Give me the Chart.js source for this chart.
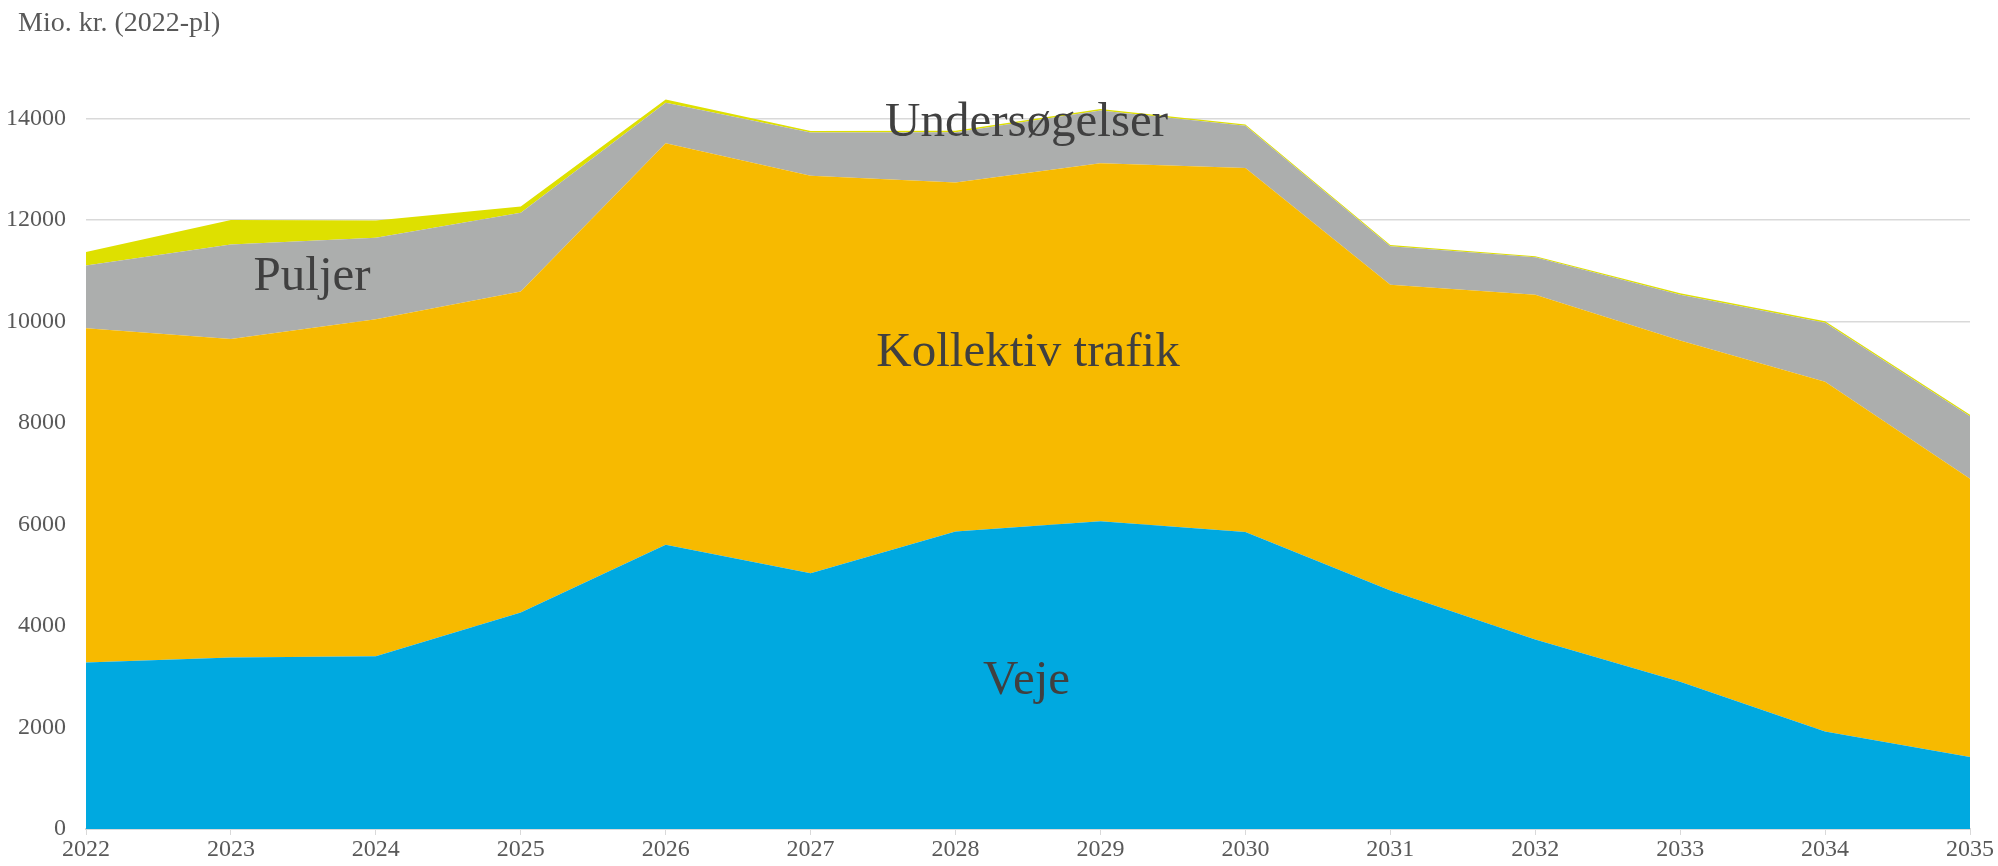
<!DOCTYPE html>
<html>
<head>
<meta charset="utf-8">
<script src="https://cdn.jsdelivr.net/npm/chart.js@4/dist/chart.umd.min.js"></script>
<style>
  html, body { margin: 0; padding: 0; background: #fff; }
  #wrap { width: 1998px; height: 866px; }
</style>
</head>
<body>
<div id="wrap"><canvas id="chart" width="1998" height="866"></canvas></div>
<script>
// Years on the x axis
const years = ['2022', '2023', '2024', '2025', '2026', '2027', '2028', '2029', '2030', '2031', '2032', '2033', '2034', '2035'];

// Y axis tick values
const yTicks = [0, 2000, 4000, 6000, 8000, 10000, 12000, 14000];

// Stacked series, mio. kr. (2022-pl)
const veje = [3283, 3378, 3406, 4267, 5601, 5043, 5866, 6064, 5856, 4702, 3737, 2904, 1921, 1419];
const kollektivTrafik = [6585, 6281, 6641, 6329, 7918, 7833, 6878, 7058, 7171, 6026, 6793, 6727, 6896, 5487];
const puljer = [1239, 1864, 1609, 1551, 795, 852, 990, 1041, 833, 757, 738, 899, 1164, 1230];
const undersoegelser = [265, 483, 340, 124, 66, 28, 28, 27, 28, 28, 19, 28, 28, 29];

const seriesNames = ['Veje', 'Kollektiv trafik', 'Puljer', 'Undersøgelser'];

const COLORS = {
  veje: '#00A9E0',
  kollektiv: '#F7BA00',
  puljer: '#ACAEAD',
  undersoegelser: '#DEE000',
  grid: '#D9D9D9',
  tick: '#595959',
  label: '#404040',
};

const FONT = 'Georgia, "Liberation Serif", "DejaVu Serif", serif';

// In-chart series labels, placed in data coordinates (x = year index, y = value)
const areaLabels = [
  { text: 'Undersøgelser', x: 6.49, y: 13660 },
  { text: 'Puljer', x: 1.56, y: 10620 },
  { text: 'Kollektiv trafik', x: 6.5, y: 9130 },
  { text: 'Veje', x: 6.49, y: 2660 },
];

const areaLabelPlugin = {
  id: 'areaLabels',
  afterDatasetsDraw(chart) {
    const { ctx, scales } = chart;
    ctx.save();
    ctx.font = '49px ' + FONT;
    ctx.fillStyle = COLORS.label;
    ctx.textAlign = 'center';
    ctx.textBaseline = 'alphabetic';
    areaLabels.forEach(l => {
      ctx.fillText(l.text, scales.x.getPixelForValue(l.x), scales.y.getPixelForValue(l.y));
    });
    ctx.restore();
  },
};

// Unit label in the top left corner
const unitLabelPlugin = {
  id: 'unitLabel',
  afterDraw(chart) {
    const { ctx } = chart;
    ctx.save();
    ctx.font = '28px ' + FONT;
    ctx.fillStyle = COLORS.tick;
    ctx.textAlign = 'left';
    ctx.textBaseline = 'middle';
    ctx.fillText('Mio. kr. (2022-pl)', 18, 24);
    ctx.restore();
  },
};

function areaDataset(label, data, color, fill) {
  return {
    label,
    data,
    backgroundColor: color,
    borderColor: color,
    borderWidth: 0,
    pointRadius: 0,
    tension: 0,
    fill,
  };
}

new Chart(document.getElementById('chart').getContext('2d'), {
  type: 'line',
  data: {
    labels: years,
    datasets: [
      areaDataset(seriesNames[0], veje, COLORS.veje, 'origin'),
      areaDataset(seriesNames[1], kollektivTrafik, COLORS.kollektiv, '-1'),
      areaDataset(seriesNames[2], puljer, COLORS.puljer, '-1'),
      areaDataset(seriesNames[3], undersoegelser, COLORS.undersoegelser, '-1'),
    ],
  },
  options: {
    responsive: false,
    animation: false,
    layout: {
      padding: { left: 0, right: 28, top: 68, bottom: 0 },
    },
    plugins: {
      legend: { display: false },
      tooltip: { enabled: false },
      title: { display: false },
    },
    scales: {
      x: {
        offset: false,
        grid: {
          drawOnChartArea: false,
          drawTicks: true,
          tickLength: 6,
          color: COLORS.grid,
        },
        border: { display: true, color: COLORS.grid, width: 2 },
        ticks: {
          color: COLORS.tick,
          font: { family: FONT, size: 24 },
          padding: 0,
          maxRotation: 0,
          autoSkip: false,
        },
        afterFit(scale) { scale.height = 37; },
      },
      y: {
        stacked: true,
        min: 0,
        max: 15000,
        grid: {
          color: COLORS.grid,
          lineWidth: 1.5,
          drawTicks: false,
        },
        border: { display: false },
        ticks: {
          color: COLORS.tick,
          font: { family: FONT, size: 24 },
          padding: 20,
          callback: v => String(v),
        },
        afterBuildTicks(scale) {
          scale.ticks = yTicks.map(v => ({ value: v }));
        },
        afterFit(scale) { scale.width = 86; },
      },
    },
  },
  plugins: [areaLabelPlugin, unitLabelPlugin],
});
</script>
</body>
</html>
